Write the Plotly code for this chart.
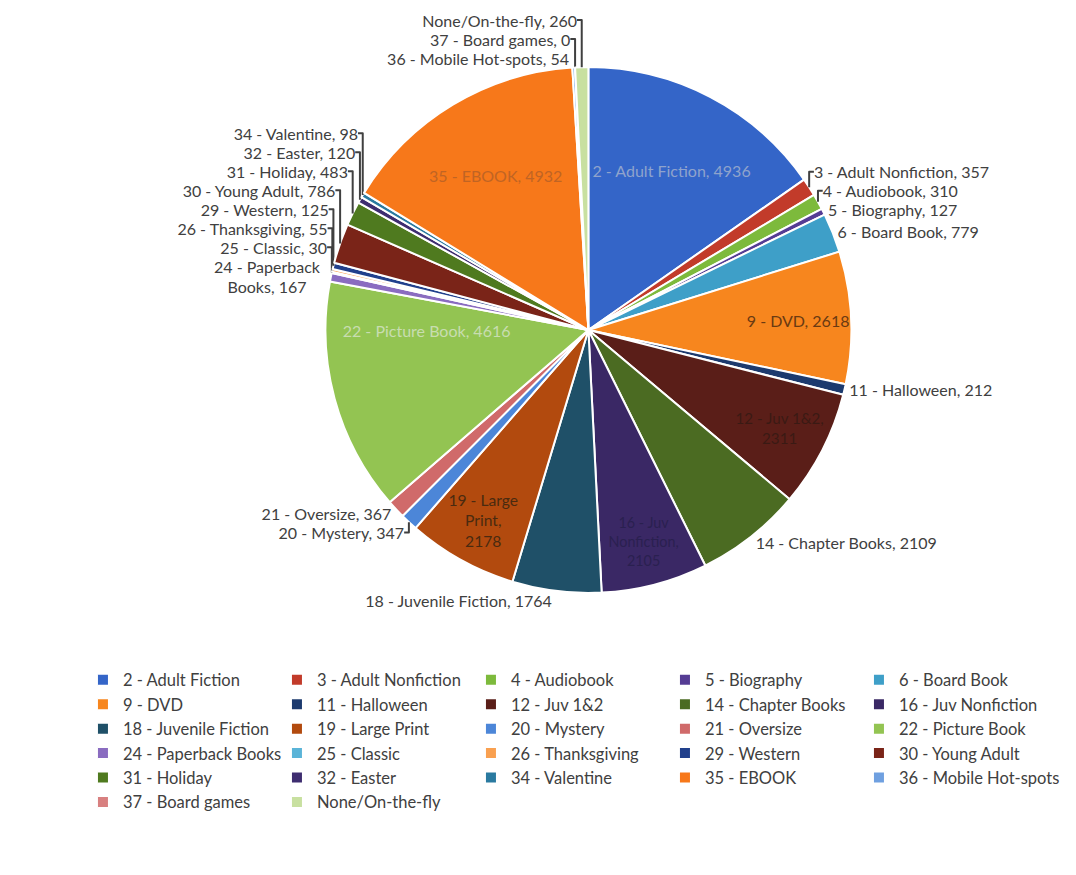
import plotly.graph_objects as go

labels = ["2 - Adult Fiction", "3 - Adult Nonfiction", "4 - Audiobook", "5 - Biography",
          "6 - Board Book", "9 - DVD", "11 - Halloween", "12 - Juv 1&2",
          "14 - Chapter Books", "16 - Juv Nonfiction", "18 - Juvenile Fiction",
          "19 - Large Print", "20 - Mystery", "21 - Oversize", "22 - Picture Book",
          "24 - Paperback Books", "25 - Classic", "26 - Thanksgiving", "29 - Western",
          "30 - Young Adult", "31 - Holiday", "32 - Easter", "34 - Valentine",
          "35 - EBOOK", "36 - Mobile Hot-spots", "37 - Board games", "None/On-the-fly"]
values = [4936, 357, 310, 127, 779, 2618, 212, 2311, 2109, 2105, 1764, 2178, 347, 367,
          4616, 167, 30, 55, 125, 786, 483, 120, 98, 4932, 54, 0, 260]
display = ["2 - Adult Fiction", "3 - Adult Nonfiction", "4 - Audiobook", "5 - Biography",
           "6 - Board Book", "9 - DVD", "11 - Halloween", "12 - Juv 1&2",
           "14 - Chapter Books", "16 - Juv<br>Nonfiction", "18 - Juvenile Fiction",
           "19 - Large<br>Print", "20 - Mystery", "21 - Oversize", "22 - Picture Book",
           "24 - Paperback<br>Books", "25 - Classic", "26 - Thanksgiving", "29 - Western",
           "30 - Young Adult", "31 - Holiday", "32 - Easter", "34 - Valentine",
           "35 - EBOOK", "36 - Mobile Hot-spots", "37 - Board games", "None/On-the-fly"]
sep = [", ", ", ", ", ", ", ", ", ", ", ", ", ", ",<br>", ", ", ",<br>", ", ",
       ",<br>", ", ", ", ", ", ", ", ", ", ", ", ", ", ", ", ", ", ", ", ", ", ",
       ", ", ", ", ", ", ", "]
colors = ["#3465C8", "#C23B2A", "#7DBA3C", "#553C94", "#3E9FC8", "#F7861E", "#1C3A6E",
          "#5A1E18", "#4B6B22", "#3A2865", "#1F5068", "#B24A0E", "#4C86D8", "#D06A6A",
          "#93C452", "#8A6CC0", "#5AB4D8", "#F9A050", "#21408C", "#7A2418", "#4F7A1F",
          "#3E2D70", "#2A7AA0", "#F7781A", "#6FA0E0", "#D88080", "#C8E0A0"]
inside = {0: "#8FA3CC", 5: "#6A3A12", 7: "#3A1A14", 9: "#2A2050", 11: "#4A2A10",
          14: "#C8DDB0", 23: "#C06424"}

texts = [d + s + str(v) for d, s, v in zip(display, sep, values)]
positions = ["inside" if i in inside else "outside" for i in range(len(values))]
inside_colors = [inside.get(i, "#404040") for i in range(len(values))]

fig = go.Figure(go.Pie(
    labels=labels, values=values, text=texts, textinfo="text",
    textposition=positions, sort=False, direction="clockwise", rotation=0,
    marker=dict(colors=colors, line=dict(color="white", width=2)),
    insidetextfont=dict(family="Lato", size=16, color=inside_colors),
    outsidetextfont=dict(family="Lato", size=16, color="#404040"),
    insidetextorientation="horizontal",
    automargin=False,
    domain=dict(x=[0.294, 0.7848], y=[0.3315, 0.9325]),
    hoverinfo="label+value",
))

fig.update_layout(
    width=1076, height=875,
    margin=dict(l=0, r=0, t=0, b=0, autoexpand=False),
    paper_bgcolor="white", plot_bgcolor="white",
    font=dict(family="Lato", size=16, color="#404040"),
    legend=dict(orientation="h", x=0.0836, xanchor="left", y=0.252, yanchor="top",
                entrywidth=164, entrywidthmode="pixels", indentation=-15,
                font=dict(family="Lato", size=16.5, color="#404040"),
                traceorder="normal"),
    showlegend=True,
)

fig.write_html("out.html")
